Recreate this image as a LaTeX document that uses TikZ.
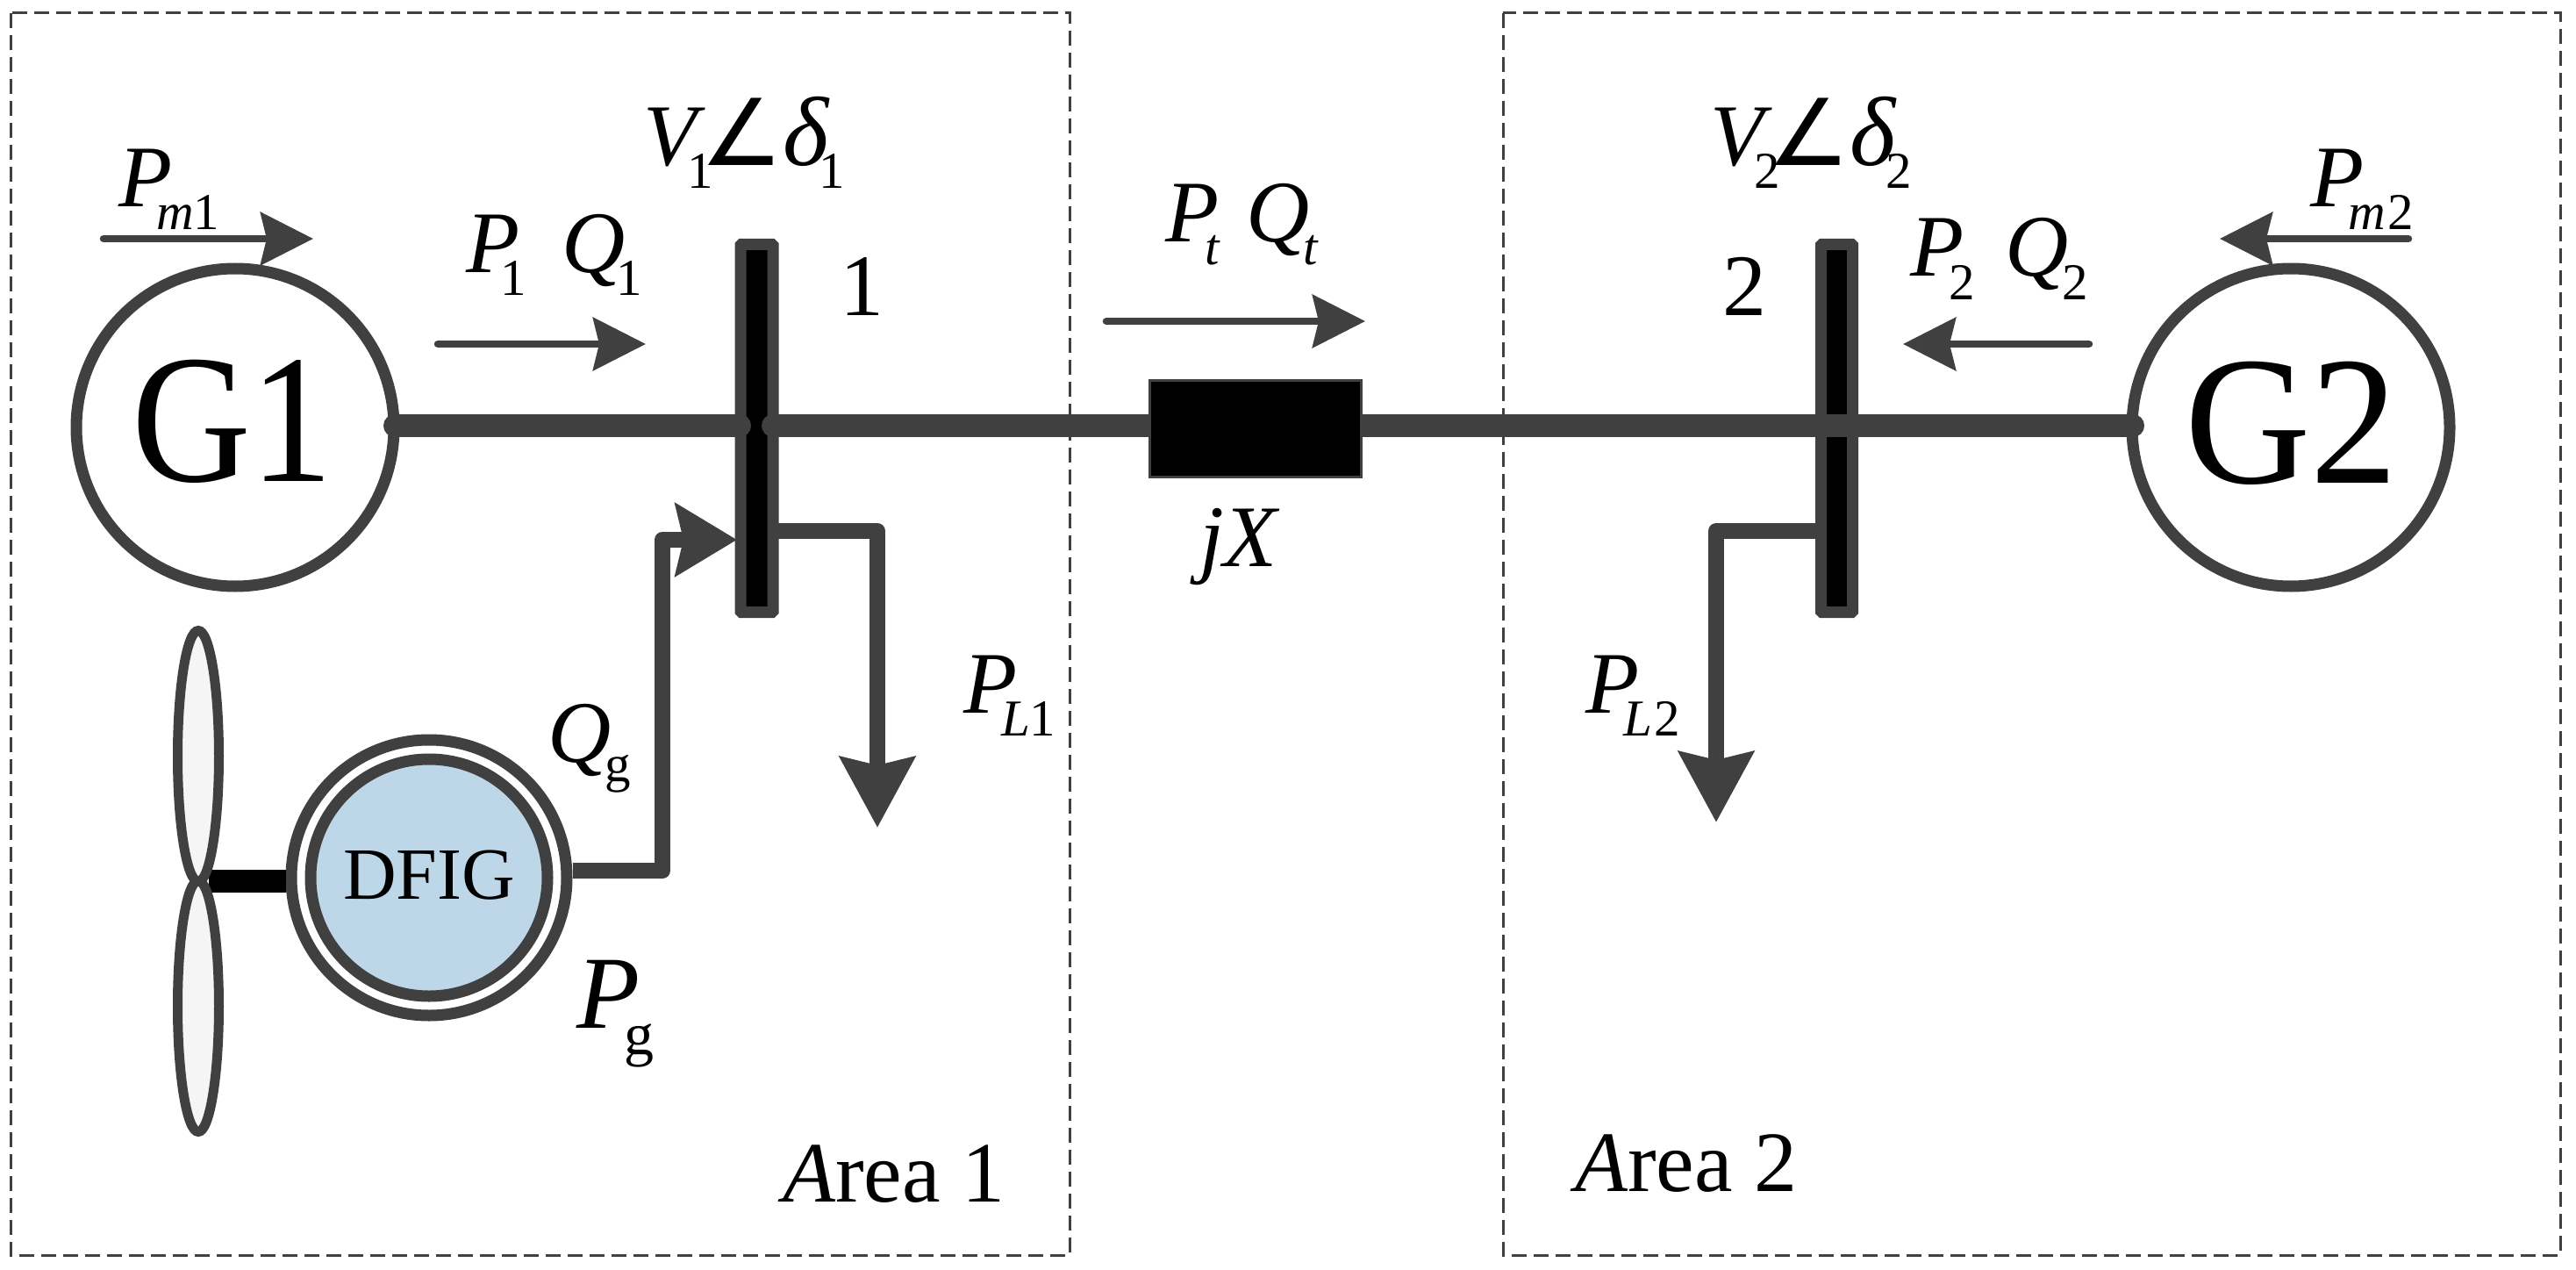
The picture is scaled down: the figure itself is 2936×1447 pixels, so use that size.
\documentclass[tikz,border=0pt]{standalone}
\usepackage{fontspec}
\setmainfont{Liberation Serif}
\newfontfamily\symfont{DejaVu Sans}
\usetikzlibrary{arrows.meta,shapes.geometric}
\definecolor{ink}{HTML}{404040}
\definecolor{dfigblue}{HTML}{BDD7E9}
\definecolor{bladegrey}{HTML}{F5F5F5}
\newcommand{\fs}[1]{\fontsize{#1}{#1}\selectfont}
% symbol with subscript: {main}{kern}{sub}
\newcommand{\symsub}[3]{\fs{100}\textit{#1}\kern#2pt\raisebox{-26pt}{\fs{59}#3}}
\tikzset{
  lbl/.style={anchor=base west,inner sep=0pt,outer sep=0pt,text=black},
  areabox/.style={draw=ink,line width=3pt,dash pattern=on 17pt off 8pt},
  gen/.style={circle,draw=ink,line width=13pt,fill=white,minimum size=362pt,inner sep=0pt},
  busbar/.style={draw=ink,line width=13pt,fill=black,rounded corners=1pt},
  feeder/.style={draw=ink,line width=26pt,line cap=round},
  branch/.style={draw=ink,line width=18pt,line join=round},
  flow/.style={draw=ink,line width=8.5pt,line cap=round,-{Stealth[length=60pt,width=60pt,inset=7pt]}},
  loadarrow/.style={branch,-{Stealth[length=80pt,width=84pt,inset=9pt]}},
  blade/.style={ellipse,draw=ink,line width=11pt,fill=bladegrey,minimum width=47pt,minimum height=286pt,inner sep=0pt},
}
\begin{document}
\begin{tikzpicture}[x=1pt,y=-1pt]
\useasboundingbox (0,0) rectangle (2936,1447);
\fill[white] (0,0) rectangle (2936,1447);
% area boxes
\draw[areabox] (12,15) rectangle (1219,1430);
\draw[areabox] (1713,15) rectangle (2918,1430);
% coordinates
\coordinate (busAtop) at (844,278.5);
\coordinate (busAbot) at (881,697.5);
\coordinate (busBtop) at (2075.5,278.5);
\coordinate (busBbot) at (2111.5,697.5);
% buses
\draw[busbar] (busAtop) rectangle (busAbot);
\draw[busbar] (busBtop) rectangle (busBbot);
% generators
\node[gen] (g1) at (268,487) {};
\node[gen] (g2) at (2611,487) {};
% feeders
\node[draw=ink,line width=3pt,minimum width=238pt,minimum height=107pt,inner sep=0pt] (xf) at (1430.5,488) {};
\coordinate (g1e) at (450,485);
\coordinate (a1) at (843,485);
\coordinate (a2) at (881,485);
\coordinate (g2w) at (2431,485);
\draw[feeder] (g1e) -- (a1);
\draw[feeder] (a2) -- (xf.west |- a2);
\draw[feeder] (xf.east |- a2) -- (g2w);
% transformer
\fill[black,draw=ink,line width=3pt] (xf.south west) rectangle (xf.north east);
% load branches
\coordinate (l1s) at (887,605);
\coordinate (l1c) at (1000,605);
\coordinate (l1t) at (1000,943);
\draw[loadarrow] (l1s) -- (l1c) -- (l1t);
\coordinate (l2s) at (2069,605);
\coordinate (l2c) at (1956,605);
\coordinate (l2t) at (1956,937);
\draw[loadarrow] (l2s) -- (l2c) -- (l2t);
% turbine
\coordinate (hub) at (238,1004);
\node[circle,draw=ink,line width=13pt,fill=white,minimum size=314pt,inner sep=0pt] (dfigo) at (489,1000) {};
\node[circle,draw=ink,line width=13pt,fill=dfigblue,minimum size=270pt,inner sep=0pt] (dfigi) at (489,1000) {};
\draw[black,line width=26pt] (hub) -- (hub -| dfigo.west);
\node[blade] (bladeA) at (226,861.5) {};
\node[blade] (bladeB) at (226,1146.5) {};
% DFIG output
\coordinate (d1) at (755,992);
\coordinate (d2) at (755,615);
\coordinate (d3) at (840,615);
\draw[branch,-{Stealth[length=70pt,width=82pt,inset=9pt]}] (dfigo.east |- d1) -- (d1) -- (d2) -- (d3);
% flow arrows
\coordinate (f1a) at (118,272); \coordinate (f1b) at (357,272);
\coordinate (f2a) at (499,392); \coordinate (f2b) at (736,392);
\coordinate (f3a) at (1261,366); \coordinate (f3b) at (1556,366);
\coordinate (f4a) at (2381,392); \coordinate (f4b) at (2169,392);
\coordinate (f5a) at (2745,272); \coordinate (f5b) at (2530,272);
\draw[flow] (f1a) -- (f1b);
\draw[flow] (f2a) -- (f2b);
\draw[flow] (f3a) -- (f3b);
\draw[flow] (f4a) -- (f4b);
\draw[flow] (f5a) -- (f5b);
% texts
\node[lbl] (tg1) at (150,548) {\fs{209}\scalebox{.9}[1]{G1}};
\node[lbl] (tg2) at (2490,550) {\fs{209}\scalebox{.95}[1]{G2}};
\node[lbl] (tdfig) at (391,1024) {\fs{84}DFIG};
\node[lbl] (tpm1) at (135,236) {\symsub{P}{-18}{\textit{m}1}};
\node[lbl] (tpm2) at (2633,236) {\symsub{P}{-18}{\textit{m}\kern3pt 2}};
\node[lbl] (tv1) at (733,189) {\symsub{V}{-20}{1}\kern-15pt{\symfont\fs{105}∠}{\fs{112}\textit{δ}}\kern-12pt\raisebox{-26pt}{\fs{59}1}};
\node[lbl] (tv2) at (1949,189) {\symsub{V}{-20}{2}\kern-15pt{\symfont\fs{105}∠}{\fs{112}\textit{δ}}\kern-12pt\raisebox{-26pt}{\fs{59}2}};
\node[lbl] (tp1) at (531,310) {\symsub{P}{-22}{1}\kern41pt\symsub{Q}{-10}{1}};
\node[lbl] (tp2) at (2177,315) {\symsub{P}{-17}{2}\kern35pt\symsub{Q}{-7}{2}};
\node[lbl] (tpt) at (1328,276) {\symsub{P}{-16}{\textit{t}}\kern30pt\symsub{Q}{-7}{\textit{t}}};
\node[lbl] (tn1) at (957,359) {\fs{100}1};
\node[lbl] (tn2) at (1963,359) {\fs{100}2};
\node[lbl] (tjx) at (1367,645) {\fs{100}\textit{jX}};
\node[lbl] (tpl1) at (1098,812) {\symsub{P}{-18}{\textit{L}1}};
\node[lbl] (tpl2) at (1807,812) {\symsub{P}{-18}{\textit{L}\kern3pt 2}};
\node[lbl] (tqg) at (624,868) {\fs{100}\textit{Q}\kern-7pt\raisebox{-22pt}{\fs{59}g}};
\node[lbl] (tpg) at (657,1171) {\fs{118}\textit{P}\kern-18pt\raisebox{-30pt}{\fs{68}g}};
\node[lbl] (ta1) at (892,1369) {\fs{98}\textit{A}rea 1};
\node[lbl] (ta2) at (1795,1357) {\fs{98}\textit{A}rea 2};
\end{tikzpicture}
\end{document}
